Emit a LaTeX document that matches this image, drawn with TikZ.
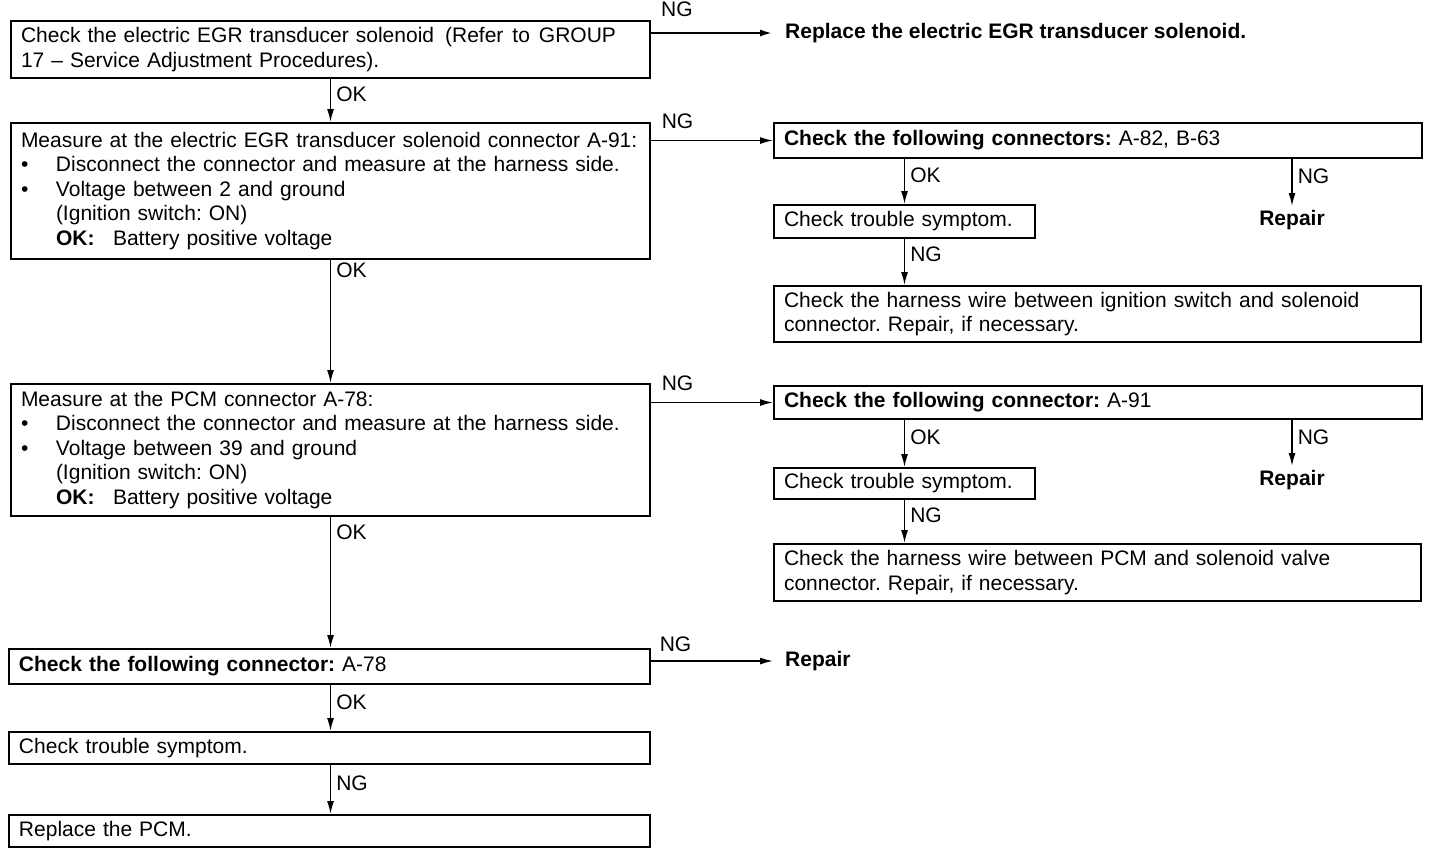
\documentclass[tikz,border=0pt]{standalone}
\usepackage{fontspec}
\setmainfont{Liberation Sans}
\usetikzlibrary{arrows.meta}
\newcommand\bodyfont{\fontsize{21}{24.5}\selectfont\frenchspacing}
\begin{document}
\begin{tikzpicture}[x=1pt,y=-1pt,
  box/.style={draw, line width=2pt, rectangle, anchor=north west, inner xsep=10pt, inner ysep=0pt, align=left, font=\bodyfont},
  plain/.style={inner sep=0pt, font=\bodyfont},
  arr/.style={-{Latex[length=13pt,width=7pt]}, line width=1.5pt},
  lab/.style={font=\bodyfont, inner sep=1pt, anchor=west, xshift=4pt, yshift=6pt},
  ng/.style={font=\bodyfont, inner sep=1pt, anchor=south west}]
\useasboundingbox (0,0) rectangle (1440,852);
% left column
\node[box, text width=619pt, minimum height=57pt] (b1) at (10,20)
  {Check the electric EGR transducer solenoid \hspace{4pt}(Refer \hspace{2pt}to \hspace{2pt}GROUP\\17 – Service Adjustment Procedures).};
\node[box, text width=619pt, minimum height=136pt] (b2) at (10,122)
  {Measure at the electric EGR transducer solenoid connector A-91:\\
   \makebox[35pt][l]{\textbullet}Disconnect the connector and measure at the harness side.\\
   \makebox[35pt][l]{\textbullet}Voltage between 2 and ground\\
   \hspace*{35pt}(Ignition switch: ON)\\
   \hspace*{35pt}\makebox[57pt][l]{\textbf{OK:}}Battery positive voltage};
\node[box, text width=619pt, minimum height=132pt] (b3) at (10,383)
  {Measure at the PCM connector A-78:\\
   \makebox[35pt][l]{\textbullet}Disconnect the connector and measure at the harness side.\\
   \makebox[35pt][l]{\textbullet}Voltage between 39 and ground\\
   \hspace*{35pt}(Ignition switch: ON)\\
   \hspace*{35pt}\makebox[57pt][l]{\textbf{OK:}}Battery positive voltage};
\node[box, text width=621pt, minimum height=35pt] (b4) at (8,648)
  {\textbf{Check the following connector:} A-78};
\node[box, text width=621pt, minimum height=32pt] (b5) at (8,731)
  {Check trouble symptom.};
\node[box, text width=621pt, minimum height=32pt] (b6) at (8,814)
  {Replace the PCM.};
% right column
\node[plain, anchor=west] (rp0) at (785,33) {\textbf{Replace the electric EGR transducer solenoid.}};
\node[box, text width=628pt, minimum height=35pt] (c1) at (773,122)
  {\textbf{Check the following connectors:} A-82, B-63};
\node[box, text width=241pt, minimum height=33pt] (t1) at (773,204)
  {Check trouble symptom.};
\node[plain] (rpA) at (1292,220) {\textbf{Repair}};
\node[box, text width=627pt, minimum height=56pt] (h1) at (773,285)
  {Check the harness wire between ignition switch and solenoid\\connector. Repair, if necessary.};
\node[box, text width=628pt, minimum height=33pt] (c2) at (773,385)
  {\textbf{Check the following connector:} A-91};
\node[box, text width=241pt, minimum height=31pt] (t2) at (773,467)
  {Check trouble symptom.};
\node[plain] (rpB) at (1292,480) {\textbf{Repair}};
\node[box, text width=627pt, minimum height=57pt] (h2) at (773,543)
  {Check the harness wire between PCM and solenoid valve\\connector. Repair, if necessary.};
\node[plain, anchor=west] (rp3) at (785,661) {\textbf{Repair}};
% connectors left
\draw[arr] (b1.south) -- node[lab] {OK} (b2.north);
\draw[arr] (b2.south) -- node[lab, pos=0.1, yshift=-4pt] {OK} (b3.north);
\draw[arr] (b3.south) -- node[lab, pos=0.13, yshift=-4pt] {OK} (b4.north -| b3.south);
\draw[arr] (b4.south -| b3.south) -- node[lab] {OK} (b5.north -| b3.south);
\draw[arr] (b5.south -| b3.south) -- node[lab] {NG} (b6.north -| b3.south);
% horizontal
\draw[arr, line width=2.4pt] ([yshift=-13pt]b1.north east) -- node[ng, pos=0, xshift=8pt, yshift=14pt] {NG} ([xshift=-12pt]rp0.west);
\draw[arr] (b2.east |- c1.west) -- node[ng, pos=0, xshift=9pt, yshift=10pt] {NG} (c1.west);
\draw[arr] (b3.east |- c2.west) -- node[ng, pos=0, xshift=9pt, yshift=10pt] {NG} (c2.west);
\draw[arr] (b4.east |- rp3.west) -- node[ng, pos=0, xshift=7pt, yshift=8pt] {NG} ([xshift=-12pt]rp3.west);
% right vertical
\draw[arr] (t1.north |- c1.south) -- node[lab] {OK} (t1.north);
\draw[arr] (t1.south) -- node[lab, yshift=2pt] {NG} (h1.north -| t1.south);
\draw[arr] (rpA.north |- c1.south) -- node[lab] {NG} ([yshift=4pt]rpA.north);
\draw[arr] (t2.north |- c2.south) -- node[lab] {OK} (t2.north);
\draw[arr] (t2.south) -- node[lab] {NG} (h2.north -| t2.south);
\draw[arr] (rpB.north |- c2.south) -- node[lab] {NG} ([yshift=4pt]rpB.north);
\end{tikzpicture}
\end{document}
